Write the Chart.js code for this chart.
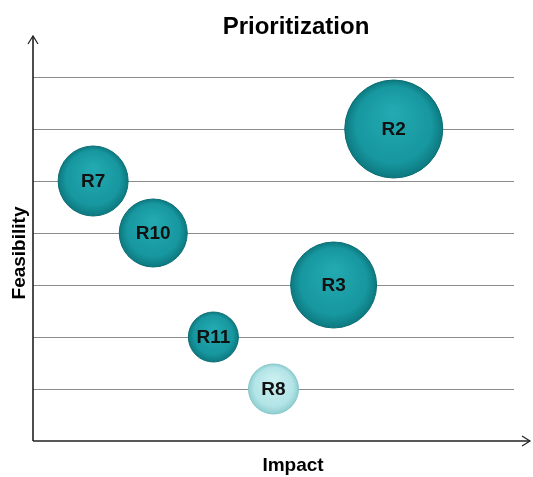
<!DOCTYPE html>
<html>
<head>
<meta charset="utf-8">
<script src="https://cdn.jsdelivr.net/npm/chart.js@4"></script>
<style>
  html, body { margin: 0; padding: 0; background: #fff; }
  #wrap { width: 533px; height: 477px; position: relative; }
</style>
</head>
<body>
<div id="wrap"><canvas id="bubbleChart"></canvas></div>
<script>
// chart data
const labels = ["R2", "R7", "R10", "R3", "R11", "R8"];
const impact = [6, 1, 2, 5, 3, 4];
const feasibility = [6, 5, 4, 3, 2, 1];
const bubbleSize = [49, 35, 34, 43, 25, 25];

const FONT = "'Liberation Sans Narrow', 'Liberation Sans', Arial, sans-serif";

function bubbleFill(ctx) {
    const chart = ctx.chart;
    const i = ctx.dataIndex;
    const light = labels[i] === "R8";
    const flat = light ? "#b3e4e6" : "#1a9ba3";
    if (i === undefined || !chart.scales.x) return flat;
    const cx = chart.scales.x.getPixelForValue(impact[i]);
    const cy = chart.scales.y.getPixelForValue(feasibility[i]);
    const r = bubbleSize[i];
    if (!isFinite(cx) || !isFinite(cy)) return flat;
    const g = chart.ctx.createRadialGradient(cx, cy - r * 0.35, r * 0.1, cx, cy, r);
    if (light) {
        g.addColorStop(0, "#c9eff0");
        g.addColorStop(0.75, "#b3e4e6");
        g.addColorStop(1, "#8fcfd2");
    } else {
        g.addColorStop(0, "#22a8b0");
        g.addColorStop(0.75, "#17979f");
        g.addColorStop(1, "#0d7980");
    }
    return g;
}

const decorations = {
    id: "decorations",
    afterDatasetsDraw(chart) {
        const c = chart.ctx;
        const area = chart.chartArea;
        const meta = chart.getDatasetMeta(0);

        // bubble labels
        c.save();
        c.fillStyle = "#111";
        c.font = "bold 19px " + FONT;
        c.textAlign = "center";
        c.textBaseline = "middle";
        meta.data.forEach(function (pt, i) {
            c.fillText(labels[i], pt.x, pt.y + 1);
        });
        c.restore();

        // axes with arrows
        c.save();
        c.strokeStyle = "#222";
        c.lineWidth = 1.6;
        c.beginPath();
        c.moveTo(area.left, area.bottom);
        c.lineTo(area.left, 36);
        c.moveTo(area.left, area.bottom);
        c.lineTo(530, area.bottom);
        c.stroke();
        c.lineWidth = 1.2;
        c.beginPath();
        c.moveTo(area.left - 5, 44);
        c.lineTo(area.left, 36);
        c.lineTo(area.left + 5, 44);
        c.moveTo(522, area.bottom - 5);
        c.lineTo(530, area.bottom);
        c.lineTo(522, area.bottom + 5);
        c.stroke();
        c.restore();

        // titles
        c.save();
        c.fillStyle = "#000";
        c.textAlign = "center";
        c.textBaseline = "middle";
        c.font = "bold 24px " + FONT;
        c.fillText("Prioritization", 296, 27);
        c.font = "bold 19px " + FONT;
        c.fillText("Impact", 293, 466);
        c.translate(20, 253);
        c.rotate(-Math.PI / 2);
        c.fillText("Feasibility", 0, 0);
        c.restore();
    }
};

document.addEventListener("DOMContentLoaded", function () {
    const canvas = document.getElementById("bubbleChart");
    new Chart(canvas, {
        type: "bubble",
        data: {
            datasets: [{
                label: "Prioritization",
                data: labels.map(function (l, i) {
                    return { x: impact[i], y: feasibility[i], r: bubbleSize[i] };
                }),
                backgroundColor: bubbleFill,
                borderColor: function (ctx) {
                    return labels[ctx.dataIndex] === "R8" ? "#86c6c9" : "#0b6d73";
                },
                borderWidth: 1,
                clip: false
            }]
        },
        options: {
            responsive: true,
            maintainAspectRatio: false,
            animation: false,
            layout: {
                autoPadding: false,
                padding: { left: 33, right: 19, top: 77, bottom: 28 }
            },
            plugins: {
                legend: { display: false },
                tooltip: { enabled: false },
                title: { display: false }
            },
            scales: {
                x: {
                    min: 0,
                    max: 8,
                    ticks: { display: false },
                    grid: { display: false },
                    border: { display: false }
                },
                y: {
                    min: 0,
                    max: 7,
                    ticks: { display: false, stepSize: 1 },
                    grid: {
                        drawTicks: false,
                        color: function (ctx) {
                            return ctx.tick && ctx.tick.value === 0 ? "rgba(0,0,0,0)" : "#8c8c8c";
                        },
                        lineWidth: 1
                    },
                    border: { display: false }
                }
            }
        },
        plugins: [decorations]
    });
});
</script>
</body>
</html>
